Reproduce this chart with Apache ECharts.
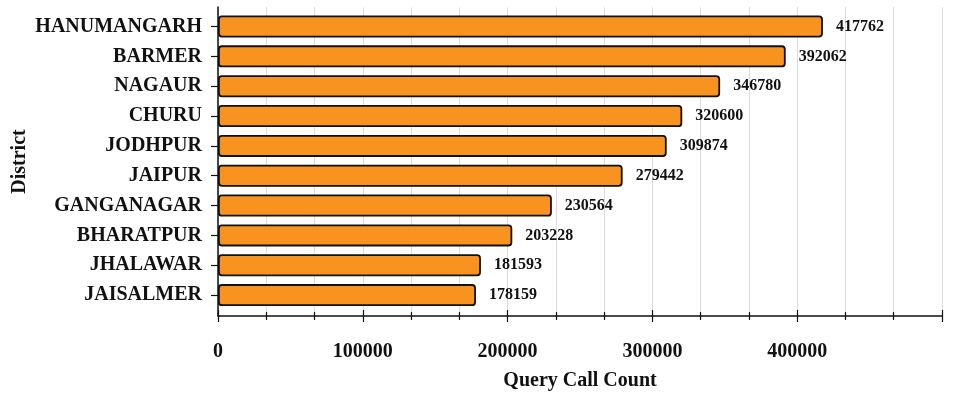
<!DOCTYPE html>
<html>
<head>
<meta charset="utf-8">
<script src="https://cdn.jsdelivr.net/npm/echarts@6/dist/echarts.min.js"></script>
<style>
  html, body { margin: 0; padding: 0; background: #fff; }
  #chart { width: 957px; height: 396px; }
</style>
</head>
<body>
<div id="chart"></div>
<script>
// Districts ranked by number of query calls
const districts = ['HANUMANGARH', 'BARMER', 'NAGAUR', 'CHURU', 'JODHPUR',
                   'JAIPUR', 'GANGANAGAR', 'BHARATPUR', 'JHALAWAR', 'JAISALMER'];
const callCounts = [417762, 392062, 346780, 320600, 309874,
                    279442, 230564, 203228, 181593, 178159];
const xTicks = [0, 100000, 200000, 300000, 400000, 500000];

const FONT = '"Liberation Serif", "Times New Roman", serif';
const xMin = xTicks[0];
const xMax = xTicks[xTicks.length - 1];
const xStep = xTicks[1] - xTicks[0];

const chart = echarts.init(document.getElementById('chart'), null, { renderer: 'canvas' });

chart.setOption({
  animation: false,
  backgroundColor: '#ffffff',
  grid: [
    // frame: axes lines, grid lines and tick labels
    { left: 218, top: 7, width: 724, height: 309, containLabel: false, outerBoundsMode: 'none' },
    // bars and category labels
    { left: 218, top: 11.6, width: 724, height: 298.4, containLabel: false, outerBoundsMode: 'none' }
  ],
  xAxis: [
    {
      gridIndex: 0, type: 'value', position: 'bottom',
      min: xMin, max: xMax, interval: xStep,
      axisLine: { show: true, lineStyle: { color: '#111', width: 1.5 } },
      axisTick: { show: true, length: 6, lineStyle: { color: '#111', width: 1.2 } },
      minorTick: { show: true, splitNumber: 3, length: 4, lineStyle: { color: '#111', width: 1.2 } },
      splitLine: { show: true, lineStyle: { color: '#dcdcdc', width: 1 } },
      minorSplitLine: { show: true, lineStyle: { color: '#dcdcdc', width: 1 } },
      axisLabel: {
        show: true, margin: 26, showMaxLabel: false,
        fontFamily: FONT, fontWeight: 'bold', fontSize: 20, color: '#111',
        formatter: v => String(v)
      },
      name: 'Query Call Count', nameLocation: 'middle', nameGap: 55,
      nameTextStyle: { fontFamily: FONT, fontWeight: 'bold', fontSize: 20, color: '#111' }
    },
    {
      // inward half of the ticks so they cross the axis line
      gridIndex: 0, type: 'value', position: 'bottom',
      min: xMin, max: xMax, interval: xStep,
      axisLine: { show: false },
      axisTick: { show: true, inside: true, length: 6, lineStyle: { color: '#111', width: 1.2 } },
      minorTick: { show: true, splitNumber: 3, length: 4, lineStyle: { color: '#111', width: 1.2 } },
      splitLine: { show: false },
      axisLabel: { show: false }
    },
    {
      gridIndex: 1, type: 'value', min: xMin, max: xMax, interval: xStep,
      show: false
    }
  ],
  yAxis: [
    {
      gridIndex: 0, type: 'value', position: 'left', min: 0, max: 1,
      axisLine: { show: true, lineStyle: { color: '#111', width: 1.5 } },
      axisTick: { show: false },
      axisLabel: { show: false },
      splitLine: { show: false },
      name: 'District', nameLocation: 'middle', nameGap: 188, nameRotate: 90,
      nameTextStyle: { fontFamily: FONT, fontWeight: 'bold', fontSize: 20, color: '#111' }
    },
    {
      gridIndex: 1, type: 'category', data: districts, inverse: true,
      axisLine: { show: false },
      axisTick: { show: true, alignWithLabel: true, length: 7, lineStyle: { color: '#111', width: 1.2 } },
      axisLabel: {
        margin: 16,
        fontFamily: FONT, fontWeight: 'bold', fontSize: 20, color: '#111'
      },
      splitLine: { show: false }
    }
  ],
  series: [
    {
      type: 'bar',
      xAxisIndex: 2, yAxisIndex: 1,
      data: callCounts,
      barWidth: 22,
      itemStyle: {
        color: '#F7931E',
        borderColor: '#111',
        borderWidth: 1.8,
        borderRadius: 3
      },
      label: {
        show: true, position: 'right', distance: 13,
        fontFamily: FONT, fontWeight: 'bold', fontSize: 16, color: '#111'
      },
      z: 3
    }
  ]
});
</script>
</body>
</html>
